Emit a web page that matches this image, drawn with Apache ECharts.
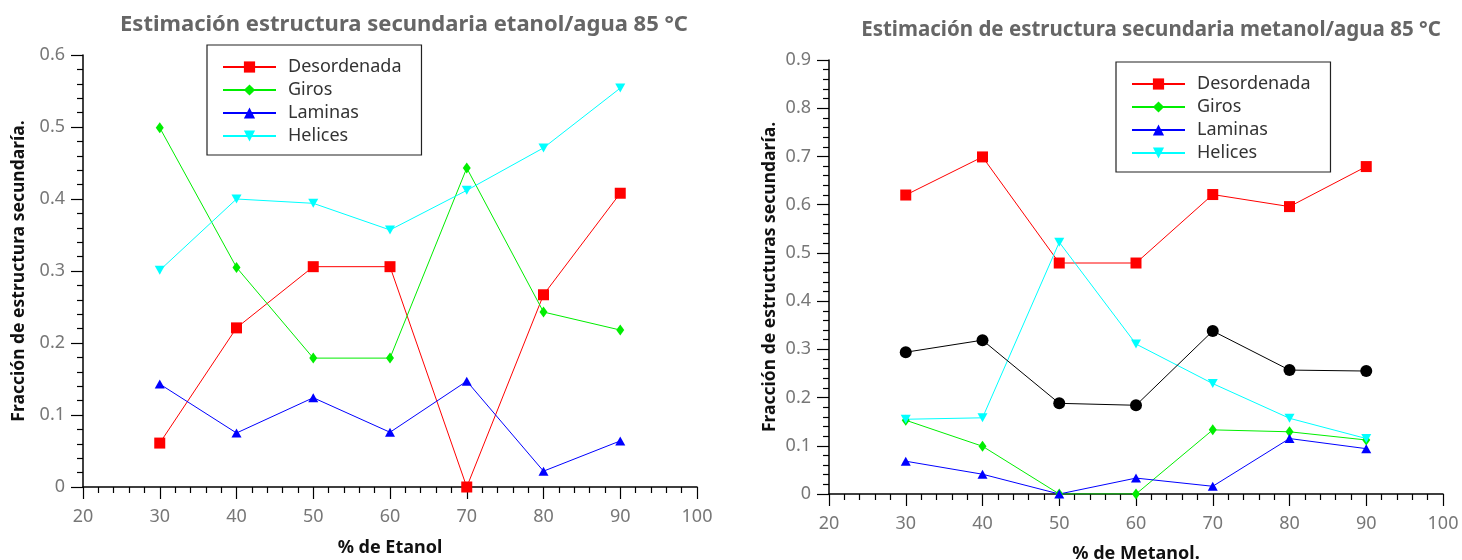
<!DOCTYPE html>
<html>
<head>
<meta charset="utf-8">
<script src="https://cdn.jsdelivr.net/npm/echarts@6/dist/echarts.min.js"></script>
<style>
  html, body { margin: 0; padding: 0; background: #fff; }
  #main { width: 1462px; height: 560px; }
</style>
</head>
<body>
<div id="main"></div>
<script>
// % de alcohol
var xValues = [30, 40, 50, 60, 70, 80, 90];

// etanol/agua 85 °C
var etaDesordenada = [0.061, 0.221, 0.306, 0.306, 0.0, 0.267, 0.408];
var etaGiros = [0.499, 0.305, 0.179, 0.179, 0.443, 0.243, 0.218];
var etaLaminas = [0.143, 0.075, 0.124, 0.076, 0.147, 0.022, 0.064];
var etaHelices = [0.301, 0.400, 0.394, 0.357, 0.412, 0.471, 0.554];

// metanol/agua 85 °C
var metDesordenada = [0.620, 0.699, 0.479, 0.479, 0.621, 0.596, 0.679];
var metGiros = [0.153, 0.099, 0.0, 0.0, 0.133, 0.129, 0.112];
var metLaminas = [0.068, 0.041, 0.0, 0.033, 0.016, 0.115, 0.094];
var metHelices = [0.155, 0.158, 0.522, 0.311, 0.229, 0.157, 0.115];
var metOtra = [0.294, 0.319, 0.188, 0.184, 0.338, 0.257, 0.255];

var legendNames = ['Desordenada', 'Giros', 'Laminas', 'Helices'];

function pares(vals) {
    var out = [];
    for (var i = 0; i < xValues.length; i++) {
        out.push([xValues[i], vals[i]]);
    }
    return out;
}

var TRI_DOWN = 'path://M0,0 L10,0 L5,9 Z';
var TRI_UP = 'path://M5,0 L10,9 L0,9 Z';

function serie(name, vals, idx, color, symbol, size) {
    return {
        name: name,
        type: 'line',
        xAxisIndex: idx,
        yAxisIndex: idx,
        data: pares(vals),
        symbol: symbol,
        symbolSize: size,
        showAllSymbol: true,
        lineStyle: { color: color, width: 1 },
        itemStyle: { color: color },
        emphasis: { disabled: true },
        animation: false
    };
}

function ejeX(idx, nombre) {
    return {
        type: 'value',
        gridIndex: idx,
        min: 20, max: 100, interval: 10,
        name: nombre,
        nameLocation: 'middle',
        nameGap: idx === 0 ? 52 : 51,
        nameTextStyle: { color: '#111', fontWeight: 'bold', fontSize: 18, fontFamily: 'Noto Sans' },
        axisLine: { lineStyle: { color: '#000', width: 1.5 } },
        axisTick: { length: 12, lineStyle: { color: '#000', width: 1.2 } },
        minorTick: { show: true, splitNumber: 5, length: 6, lineStyle: { color: '#000', width: 1.2 } },
        axisLabel: { color: '#777', fontSize: 18, margin: 21, fontFamily: 'Noto Sans' },
        splitLine: { show: false }
    };
}

function ejeY(idx, nombre, maximo) {
    return {
        type: 'value',
        gridIndex: idx,
        min: 0, max: maximo, interval: 0.1,
        name: nombre,
        nameLocation: 'middle',
        nameGap: idx === 0 ? 55 : 50,
        nameTextStyle: { color: '#111', fontWeight: 'bold', fontSize: 17.5, fontFamily: 'Noto Sans' },
        axisLine: { show: true, lineStyle: { color: '#000', width: 1.5 } },
        axisTick: { show: true, length: 12, lineStyle: { color: '#000', width: 1.2 } },
        minorTick: { show: true, splitNumber: 5, length: 6, lineStyle: { color: '#000', width: 1.2 } },
        axisLabel: { color: '#777', fontSize: 18, margin: 18, fontFamily: 'Noto Sans' },
        splitLine: { show: false }
    };
}

function leyenda(left, top) {
    return {
        data: legendNames,
        orient: 'vertical',
        left: left,
        top: top,
        padding: [13, 20, 10, 15],
        itemGap: 5,
        itemWidth: 53,
        itemHeight: 14,
        borderColor: '#222',
        borderWidth: 1.2,
        selectedMode: false,
        textStyle: { color: '#333', fontSize: 18, fontFamily: 'Noto Sans', padding: [0, 0, 0, 7] }
    };
}

var option = {
    backgroundColor: '#fff',
    animation: false,
    title: [
        {
            text: 'Estimación estructura secundaria etanol/agua 85 °C',
            left: 399, top: 9, textAlign: 'center',
            textStyle: { color: '#666', fontWeight: 'bold', fontSize: 22, fontFamily: 'Noto Sans' }
        },
        {
            text: 'Estimación de estructura secundaria metanol/agua 85 °C',
            left: 1146, top: 15, textAlign: 'center',
            textStyle: { color: '#666', fontWeight: 'bold', fontSize: 20.5, fontFamily: 'Noto Sans' }
        }
    ],
    legend: [leyenda(207, 45), leyenda(1116, 62)],
    grid: [
        { left: 83, top: 55, width: 614, height: 432, outerBoundsMode: 'none' },
        { left: 829, top: 60, width: 614, height: 434, outerBoundsMode: 'none' }
    ],
    xAxis: [ejeX(0, '% de Etanol'), ejeX(1, '% de Metanol.')],
    yAxis: [
        ejeY(0, 'Fracción de estructura secundaría.', 0.6),
        ejeY(1, 'Fracción de estructuras secundaría.', 0.9)
    ],
    series: [
        serie('Desordenada', etaDesordenada, 0, '#ff0000', 'rect', 11),
        serie('Giros', etaGiros, 0, '#00ee00', 'diamond', [8, 11]),
        serie('Laminas', etaLaminas, 0, '#0000ff', TRI_UP, [10, 9]),
        serie('Helices', etaHelices, 0, '#00ffff', TRI_DOWN, [10, 9]),
        serie('Desordenada', metDesordenada, 1, '#ff0000', 'rect', 11),
        serie('Giros', metGiros, 1, '#00ee00', 'diamond', [8, 11]),
        serie('Laminas', metLaminas, 1, '#0000ff', TRI_UP, [10, 9]),
        serie('Helices', metHelices, 1, '#00ffff', TRI_DOWN, [10, 9]),
        serie('Otra', metOtra, 1, '#000000', 'circle', 12)
    ]
};

var chart = echarts.init(document.getElementById('main'));
chart.setOption(option);
</script>
</body>
</html>
